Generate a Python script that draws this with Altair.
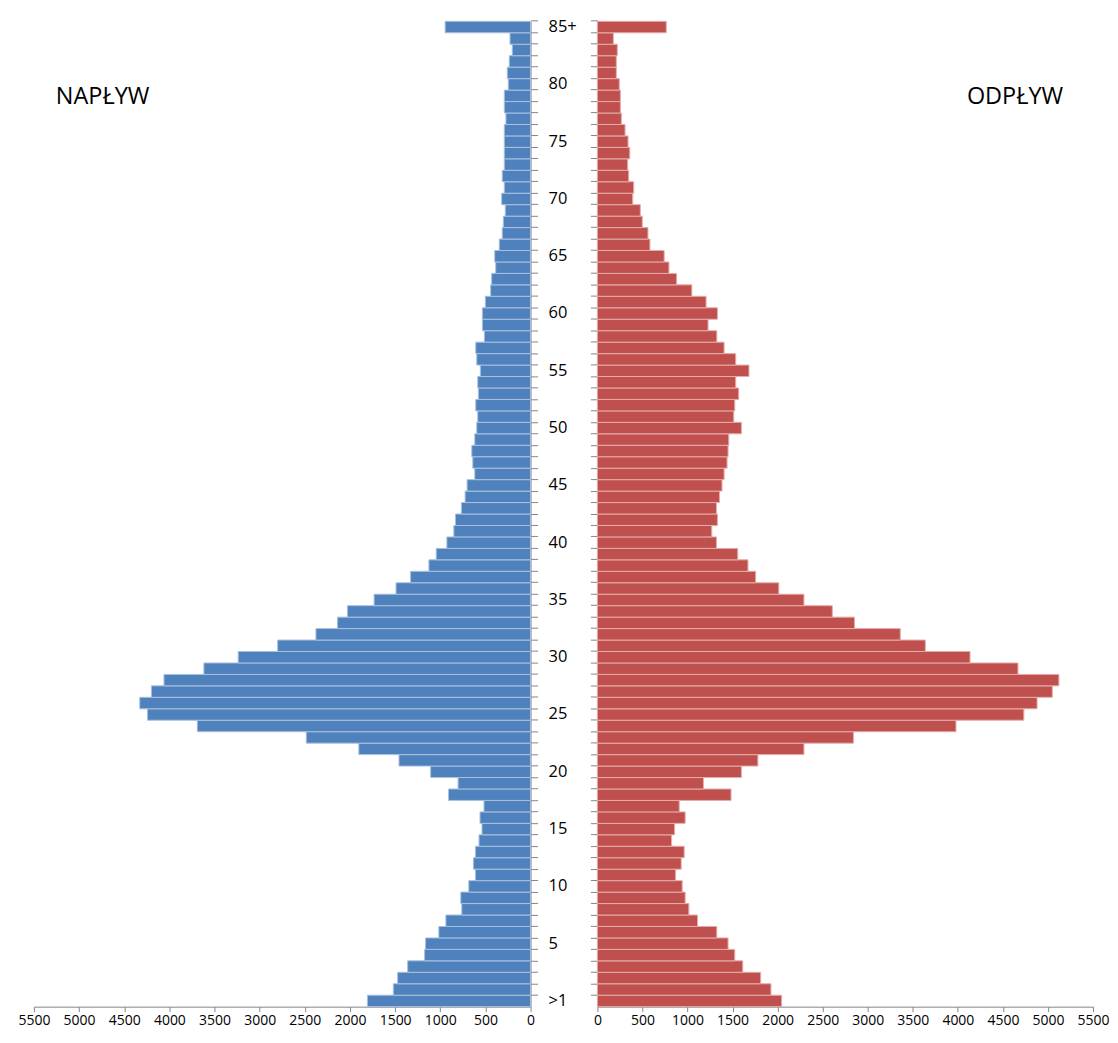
import altair as alt
import pandas as pd

ages = [">1"] + [str(i) for i in range(1, 85)] + ["85+"]

naplyw = [1807, 1520, 1472, 1361, 1174, 1163, 1016, 938, 762, 773,
          684, 611, 633, 611, 571, 538, 560, 516, 909, 803,
          1107, 1457, 1902, 2484, 3691, 4243, 4328, 4199, 4060, 3618,
          3238, 2801, 2377, 2139, 2028, 1733, 1490, 1329, 1126, 1045,
          927, 850, 832, 766, 725, 703, 618, 640, 651, 618,
          596, 585, 607, 578, 585, 556, 596, 607, 512, 534,
          534, 501, 442, 431, 386, 397, 347, 314, 302, 280,
          320, 291, 314, 291, 291, 291, 291, 273, 291, 291,
          247, 258, 236, 203, 228, 946]

odplyw = [2044, 1926, 1812, 1613, 1524, 1450, 1325, 1111, 1015, 974,
          941, 868, 930, 963, 823, 857, 974, 908, 1483, 1177,
          1598, 1781, 2292, 2841, 3979, 4732, 4879, 5048, 5121, 4667,
          4135, 3639, 3361, 2853, 2607, 2292, 2013, 1756, 1671, 1557,
          1321, 1269, 1332, 1321, 1355, 1383, 1406, 1439, 1450, 1458,
          1598, 1513, 1524, 1568, 1535, 1682, 1535, 1406, 1325, 1228,
          1332, 1206, 1048, 879, 794, 741, 583, 561, 498, 476,
          392, 403, 347, 336, 359, 340, 307, 266, 255, 255,
          243, 210, 210, 221, 177, 764]

shown = [a if i % 5 == 0 else "" for i, a in enumerate(ages)]
tick_values = list(range(0, 5501, 500))
titles_left = ["NAPŁYW"]
titles_right = ["ODPŁYW"]

df = pd.DataFrame({"age": ages, "naplyw": naplyw, "odplyw": odplyw, "lbl": shown})
order = ages[::-1]

H = 988
FONT = "Open Sans"
AX = "#868686"
BLUE = "#4f81bd"
RED = "#c0504d"

yscale = alt.Scale(paddingInner=0, paddingOuter=0)


def xaxis():
    return alt.Axis(values=tick_values, format="d", title=None, grid=False, tickSize=5,
                    labelFontSize=14, labelFont=FONT, labelColor="#000000",
                    labelPadding=2, labelFlush=False, labelOverlap=False,
                    domainColor=AX, tickColor=AX)


def yaxis(orient):
    return alt.Axis(orient=orient, labels=False, title=None, ticks=True,
                    tickSize=7, bandPosition=0, domainColor=AX, tickColor=AX,
                    grid=False)


left_bars = alt.Chart(df).mark_bar(color=BLUE, stroke="#a9c1df", strokeWidth=1).encode(
    x=alt.X("naplyw:Q", scale=alt.Scale(domain=[0, 5500], reverse=True, nice=False), axis=xaxis()),
    y=alt.Y("age:N", sort=order, scale=yscale, axis=yaxis("right")),
)
left_title = alt.Chart(pd.DataFrame({"t": titles_left})).mark_text(
    align="left", baseline="middle", font=FONT, fontSize=23.5, color="#000000").encode(
    text="t:N", x=alt.value(22), y=alt.value(76))
left = alt.layer(left_bars, left_title).properties(width=498, height=H)

mid = alt.Chart(df).mark_text(align="left", baseline="middle", font=FONT,
                              fontSize=16.5, color="#000000").encode(
    y=alt.Y("age:N", sort=order, scale=yscale, axis=None),
    x=alt.value(10),
    text="lbl:N",
).properties(width=51, height=H)

right_bars = alt.Chart(df).mark_bar(color=RED, stroke="#e4adab", strokeWidth=1).encode(
    x=alt.X("odplyw:Q", scale=alt.Scale(domain=[0, 5500], nice=False), axis=xaxis()),
    y=alt.Y("age:N", sort=order, scale=yscale, axis=yaxis("left")),
)
right_title = alt.Chart(pd.DataFrame({"t": titles_right})).mark_text(
    align="right", baseline="middle", font=FONT, fontSize=23.5, color="#000000").encode(
    text="t:N", x=alt.value(467), y=alt.value(76))
right = alt.layer(right_bars, right_title).properties(width=497, height=H)

chart = alt.hconcat(left, mid, right, spacing=0).properties(
    padding={"left": 9, "top": 9, "right": 0, "bottom": 0}
).configure_view(stroke=None)

chart.save("out.html", embed_options={"renderer": "svg", "actions": False})
